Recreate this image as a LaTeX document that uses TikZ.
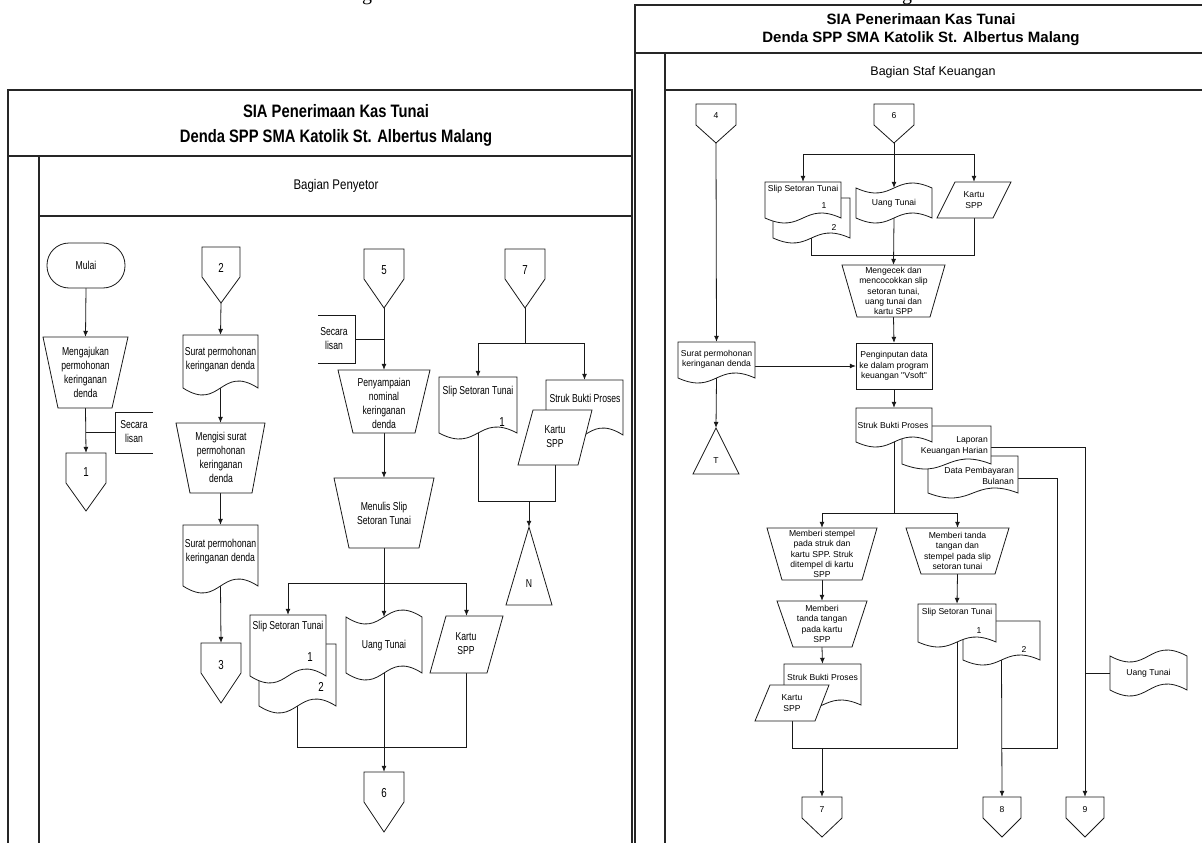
\documentclass[tikz,border=0pt]{standalone}
\usepackage{fontspec}
\setmainfont{Liberation Serif}
\newfontfamily\lfont[FakeStretch=0.82]{Liberation Sans}
\newfontfamily\lnarrow[FakeStretch=0.75]{Liberation Sans}
\newfontfamily\rfont{Liberation Sans}
\usetikzlibrary{arrows.meta,fit,calc}
\pgfdeclarelayer{bg}
\pgfsetlayers{bg,main}
\tikzset{
  shp/.style={draw=black!90, fill=white, line width=0.8pt},
  frm/.style={draw=black!85, line width=1.1pt},
  cn/.style={draw=black!90, line width=0.8pt},
  arr/.style={cn, -{Latex[length=6pt,width=5pt]}},
  bb/.style={inner sep=0pt, draw=none},
  lt/.style={font=\lnarrow\fontsize{11.5pt}{14pt}\selectfont, align=center, inner sep=0pt},
  lnum/.style={font=\lnarrow\fontsize{13pt}{15pt}\selectfont, inner sep=0pt},
  rt/.style={font=\rfont\fontsize{8.6pt}{10.4pt}\selectfont, align=center, inner sep=0pt},
  rnum/.style={font=\rfont\fontsize{8.6pt}{10pt}\selectfont, inner sep=0pt},
  cut/.style={font=\rmfamily\fontsize{20pt}{22pt}\selectfont, inner sep=0pt, anchor=base},
}
% document: name x1 ytop x2 ybottom amplitude
\newcommand\mkDoc[6]{%
  \draw[shp] (#2,#3) -- (#4,#3) -- (#4,#5) .. controls ({(#2+#4)/2},{#5-3.46*#6}) and ({(#2+#4)/2},{#5+3.46*#6}) .. (#2,#5) -- cycle;
  \node[bb, fit={(#2,#3) (#4,#5)}] (#1) {};}
% punched tape: name x1 ytop x2 ybottom amplitude
\newcommand\mkTape[6]{%
  \draw[shp] (#2,#3) .. controls ({(#2+#4)/2},{#3+3.46*#6}) and ({(#2+#4)/2},{#3-3.46*#6}) .. (#4,#3) -- (#4,#5) .. controls ({(#2+#4)/2},{#5-3.46*#6}) and ({(#2+#4)/2},{#5+3.46*#6}) .. (#2,#5) -- cycle;
  \node[bb, fit={(#2,#3) (#4,#5)}] (#1) {};}
% quadrilateral: name xtl xtr ytop xbl xbr ybottom
\newcommand\mkQuad[7]{%
  \draw[shp] (#2,#4) -- (#3,#4) -- (#6,#7) -- (#5,#7) -- cycle;
  \node[bb, fit={(#2,#4) (#3,#4) (#5,#7) (#6,#7)}] (#1) {};}
% triangle (file): name cx yapex halfwidth ybase
\newcommand\mkTri[5]{%
  \draw[shp] (#2,#3) -- ({#2+#4},#5) -- ({#2-#4},#5) -- cycle;
  \node[bb, fit={(#2,#3) ({#2+#4},#5) ({#2-#4},#5)}] (#1) {};}
% off-page connector: name cx ytop halfwidth yshoulder ytip
\newcommand\mkConn[6]{%
  \draw[shp] ({#2-#4},#3) -- ({#2+#4},#3) -- ({#2+#4},#5) -- (#2,#6) -- ({#2-#4},#5) -- cycle;
  \node[bb, fit={({#2-#4},#3) ({#2+#4},#6)}] (#1) {};}

\begin{document}
\begin{tikzpicture}[x=1pt,y=-1pt]
\useasboundingbox (0,0) rectangle (1202,843);

% cut-off caption text above the picture (only descenders visible)
\node[cut] (capL) at (367,0.5) {g};
\node[cut] (capR) at (907,0.5) {g};

% ================= LEFT DIAGRAM =================
\node[font=\lfont\bfseries\fontsize{18pt}{25pt}\selectfont, align=center, inner sep=0pt] (ltitle) at (336,125) {SIA Penerimaan Kas Tunai\\Denda SPP SMA Katolik St. Albertus Malang};
\node[font=\lfont\fontsize{14pt}{16pt}\selectfont, inner sep=0pt] (llane) at (336,186) {Bagian Penyetor};

% column 1
\draw[shp, rounded corners=22pt] (47,243) rectangle (125,288);
\node[bb, fit={(47,243) (125,288)}] (mulai) {};
\node[lt] (mulait) at (86,265.5) {Mulai};
\mkQuad{ajukan}{43}{128}{337}{58}{112}{408}
\node[lt] (ajukant) at (85.5,372) {Mengajukan\\permohonan\\keringanan\\denda};
\draw[cn] (153,412) -- (115,412) -- (115,453) -- (153,453);
\node[bb, fit={(115,412) (153,453)}] (br1) {};
\node[lt] (br1t) at (134,432) {Secara\\lisan};
\mkConn{c1}{86}{453}{20}{483}{511}
\node[lnum] (c1t) at (86,472) {1};

% column 2
\mkConn{c2}{221}{247}{19}{277}{303}
\node[lnum] (c2t) at (221,268) {2};
\mkDoc{sp1}{183}{335}{258}{388}{7}
\node[lt] (sp1t) at (220.5,360) {Surat permohonan\\keringanan denda};
\mkQuad{isi}{176}{265}{423}{190}{252}{493}
\node[lt] (isit) at (221,457) {Mengisi surat\\permohonan\\keringanan\\denda};
\mkDoc{sp2}{183}{525}{258}{586}{7}
\node[lt] (sp2t) at (220.5,552) {Surat permohonan\\keringanan denda};
\mkConn{c3}{221}{643}{20}{673}{703}
\node[lnum] (c3t) at (221,665) {3};

% column 3
\mkConn{c5}{384}{249}{20}{279}{308}
\node[lnum] (c5t) at (384,270) {5};
\draw[cn] (318,315) -- (355,315) -- (355,363) -- (318,363);
\node[bb, fit={(318,315) (355,363)}] (br3) {};
\node[lt] (br3t) at (334,339) {Secara\\lisan};
\mkQuad{sampai}{338}{430}{370}{353}{415}{433}
\node[lt] (sampait) at (384,403) {Penyampaian\\nominal\\keringanan\\denda};
\mkQuad{tulis}{334}{434}{478}{349}{419}{548}
\node[lt] (tulist) at (384,513) {Menulis Slip\\Setoran Tunai};
\mkDoc{slipLb}{259}{644}{336}{706}{7}
\mkDoc{slipL}{250}{615}{326}{676}{7}
\node[lt] (slipLt) at (288,627) {Slip Setoran Tunai};
\node[lnum] (slipL1) at (310,657) {1};
\node[lnum] (slipL2) at (321,687) {2};
\mkTape{uangL}{346}{617}{422}{673}{7}
\node[lt] (uangLt) at (384,646) {Uang Tunai};
\mkQuad{kartuL}{446}{503}{616}{430}{487}{673}
\node[lt] (kartuLt) at (466,644) {Kartu\\SPP};
\mkConn{c6}{384}{772}{20}{802}{832}
\node[lnum] (c6t) at (384,793) {6};

% column 4
\mkConn{c7}{525}{249}{20}{279}{308}
\node[lnum] (c7t) at (525,270) {7};
\mkDoc{slip7}{439}{377}{517}{433}{6}
\node[lt] (slip7t) at (478,392) {Slip Setoran Tunai};
\node[lnum] (slip71) at (502,422) {1};
\mkDoc{struk7}{546}{380}{623}{435}{7}
\node[lt] (struk7t) at (585,398) {Struk Bukti Proses};
\mkQuad{kartu7}{533}{592}{410}{518}{578}{465}
\node[lt] (kartu7t) at (555,437) {Kartu\\SPP};
\mkTri{fileN}{529}{527}{23}{605}
\node[lt] (fileNt) at (529,584) {N};

% ================= RIGHT DIAGRAM =================
\node[font=\rfont\bfseries\fontsize{15pt}{18pt}\selectfont, align=center, inner sep=0pt] (rtitle) at (921,30) {SIA Penerimaan Kas Tunai\\Denda SPP SMA Katolik St. Albertus Malang};
\node[font=\rfont\fontsize{12.5pt}{14pt}\selectfont, inner sep=0pt] (rlane) at (933,72) {Bagian Staf Keuangan};

\mkConn{c4}{716}{104}{20}{125}{143}
\node[rnum] (c4t) at (716,116) {4};
\mkConn{c6r}{894}{104}{20}{125}{143}
\node[rnum] (c6rt) at (894,116) {6};
\mkDoc{slipRb}{773}{198}{850}{238}{5}
\mkDoc{slipR}{765}{182}{841}{218}{5}
\node[rt] (slipRt) at (803,189) {Slip Setoran Tunai};
\node[rnum] (slipR1) at (824,206) {1};
\node[rnum] (slipR2) at (834,227) {2};
\mkTape{uangR}{856}{188}{932}{218}{5}
\node[rt] (uangRt) at (894,203) {Uang Tunai};
\mkQuad{kartuR}{955}{1011}{182}{937}{993}{218}
\node[rt] (kartuRt) at (974,200) {Kartu\\SPP};
\mkQuad{cek}{842}{945}{265}{857}{930}{317}
\node[rt] (cekt) at (893.5,291) {Mengecek dan\\mencocokkan slip\\setoran tunai,\\uang tunai dan\\kartu SPP};
\draw[shp] (856,343) rectangle (932,389);
\node[bb, fit={(856,343) (932,389)}] (input) {};
\node[rt] (inputt) at (894,366) {Penginputan data\\ke dalam program\\keuangan "Vsoft"};
\mkDoc{suratR}{678}{342}{755}{378}{5}
\node[rt] (suratRt) at (716.5,359.5) {Surat permohonan\\keringanan denda};
\mkTri{fileT}{716}{428}{23}{474}
\node[rt] (fileTt) at (716,461) {T};
\mkDoc{dpb}{928}{456}{1018}{493}{5}
\node[rt, align=right, anchor=east] (dpbt) at (1014,476) {Data Pembayaran\\Bulanan};
\mkDoc{lap}{902}{426}{991}{464}{5}
\node[rt, align=right, anchor=east] (lapt) at (988,446) {Laporan\\Keuangan Harian};
\mkDoc{strukR}{856}{408}{932}{442}{5}
\node[rt] (strukRt) at (893,425) {Struk Bukti Proses};
\mkQuad{stempel}{767}{877}{528}{782}{862}{580}
\node[rt] (stempelt) at (822,554) {Memberi stempel\\pada struk dan\\kartu SPP. Struk\\ditempel di kartu\\SPP};
\mkQuad{ttdk}{777}{867}{601}{793}{852}{647}
\node[rt] (ttdkt) at (822,624) {Memberi\\tanda tangan\\pada kartu\\SPP};
\mkDoc{strukB}{784}{664}{861}{705}{5}
\node[rt] (strukBt) at (822.5,677) {Struk Bukti Proses};
\mkQuad{kartuB}{770}{829}{685}{755}{815}{721}
\node[rt] (kartuBt) at (792,703) {Kartu\\SPP};
\mkConn{c7r}{822}{797}{20}{818}{837}
\node[rnum] (c7rt) at (822,810) {7};
\mkQuad{ttd}{906}{1009}{528}{921}{995}{574}
\node[rt] (ttdt) at (957.5,551) {Memberi tanda\\tangan dan\\stempel pada slip\\setoran tunai};
\mkDoc{slipBb}{963}{621}{1040}{660}{5}
\mkDoc{slipB}{918}{604}{996}{642}{5}
\node[rt] (slipBt) at (957,612) {Slip Setoran Tunai};
\node[rnum] (slipB1) at (979,631) {1};
\node[rnum] (slipB2) at (1024,649) {2};
\mkConn{c8}{1002}{797}{19}{818}{837}
\node[rnum] (c8t) at (1002,810) {8};
\mkConn{c9}{1085}{797}{19}{818}{837}
\node[rnum] (c9t) at (1085,810) {9};
\mkTape{uangR2}{1110}{656}{1187}{690}{6}
\node[rt] (uangR2t) at (1148.5,673) {Uang Tunai};

% ================= BACKGROUND: frames and connectors =================
\begin{pgfonlayer}{bg}
\fill[white] (0,0) rectangle (1202,843);
% left frame
\draw[frm] (8,850) -- (8,90) -- (632,90) -- (632,850);
\draw[draw=black!85, line width=2pt] (8,156) -- (632,156);
\draw[frm] (39,156) -- (39,850);
\draw[frm] (39,216) -- (632,216);
% right frame
\draw[frm] (635,850) -- (635,5) -- (1210,5);
\draw[draw=black!85, line width=2pt] (635,53) -- (1210,53);
\draw[frm] (665,53) -- (665,850);
\draw[frm] (665,90) -- (1210,90);

% left connectors
\draw[arr] (mulai.south) -- (ajukan.north);
\draw[arr] (ajukan.south) -- (c1.north);
\draw[cn] (ajukan.south |- br1.west) -- (br1.west);
\draw[arr] (c2.south) -- (sp1.north);
\draw[arr] (sp1.south) -- (isi.north);
\draw[arr] (isi.south) -- (sp2.north);
\draw[arr] (sp2.south) -- (c3.north);
\draw[arr] (c5.south) -- (sampai.north);
\draw[cn] (br3.east) -- (c5.south |- br3.east);
\draw[arr] (sampai.south) -- (tulis.north);
\draw[arr] (tulis.south) -- (uangL.north);
\coordinate (j3) at (384,583);
\draw[arr] (j3) -| (slipL.north);
\draw[arr] (j3) -| (kartuL.north);
\coordinate (j3b) at (384,747);
\draw[cn] (slipLb.south) |- (j3b);
\draw[cn] (kartuL.south) |- (j3b);
\draw[arr] (uangL.south) -- (c6.north);
\coordinate (j4) at (525,343);
\draw[cn] (c7.south) -- (j4);
\draw[arr] (j4) -| (slip7.north);
\draw[arr] (j4) -| (struk7.north);
\coordinate (j4b) at (529,501);
\draw[cn] (slip7.south) |- (j4b);
\draw[cn] (kartu7.south) |- (j4b);
\draw[arr] (j4b) -- (fileN.north);

% right connectors
\draw[arr] (c4.south) -- (suratR.north);
\coordinate (jr1) at (894,154);
\draw[cn] (c6r.south) -- (jr1);
\draw[arr] (jr1) -| (slipR.north);
\draw[arr] (jr1) -- (uangR.north);
\draw[arr] (jr1) -| (kartuR.north);
\coordinate (jr2) at (894,255);
\draw[cn] (slipRb.south) |- (jr2);
\draw[cn] (kartuR.south) |- (jr2);
\draw[arr] (uangR.south) -- (cek.north);
\draw[arr] (cek.south) -- (input.north);
\draw[arr] (suratR.east |- input.west) -- (input.west);
\draw[arr] (suratR.south) -- (fileT.north);
\draw[arr] (input.south) -- (strukR.north);
\coordinate (jr3) at (894,513);
\draw[cn] (strukR.south) -- (jr3);
\draw[arr] (jr3) -| (stempel.north);
\draw[arr] (jr3) -| (ttd.north);
\draw[arr] (stempel.south) -- (ttdk.north);
\draw[arr] (ttdk.south) -- (strukB.north);
\draw[arr] (ttd.south) -- (slipB.north);
\coordinate (jr4) at (822,748);
\draw[cn] (kartuB.south) |- (jr4);
\draw[cn] (slipB.south) |- (jr4);
\draw[arr] (jr4) -- (c7r.north);
\draw[arr] (slipBb.south) -- (c8.north);
\draw[arr] ($(lap.north east)+(0,22)$) -| (c9.north);
\coordinate (jr5) at (1057,748);
\draw[cn] ($(dpb.north east)+(0,23)$) -| (jr5) -- (slipBb.south |- jr5);
\draw[cn] (uangR2.west) -- (c9.north |- uangR2.west);
\end{pgfonlayer}
\end{tikzpicture}
\end{document}
